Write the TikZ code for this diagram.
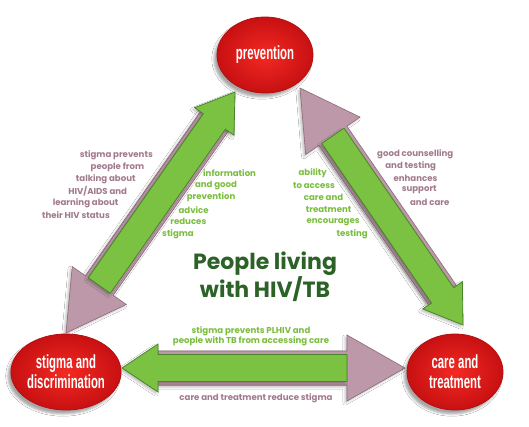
\documentclass[tikz,border=0pt]{standalone}
\usepackage{fontspec}
\setmainfont{Poppins}
\newfontfamily\ovalfont{Liberation Sans}[FakeStretch=0.6]
\usetikzlibrary{shapes.geometric, calc, shadows.blur}
\definecolor{ovalred}{RGB}{242,42,34}
\definecolor{ovaldark}{RGB}{200,16,18}
\definecolor{arrgreen}{RGB}{124,194,66}
\definecolor{arrgreendark}{RGB}{72,132,42}
\definecolor{arrmauve}{RGB}{188,152,168}
\definecolor{arrmauvedark}{RGB}{140,105,122}
\definecolor{txtmauve}{RGB}{162,122,142}
\definecolor{txtgreen}{RGB}{122,190,62}
\definecolor{txtdark}{RGB}{44,98,40}
\tikzstyle{oval} = [ellipse, minimum width=96pt, minimum height=76pt, inner sep=0, draw=ovaldark!90!black, thick, inner color=ovalred, outer color=ovaldark, text=white, align=center, font=\ovalfont\bfseries\fontsize{19}{20}\selectfont, blur shadow={shadow xshift=-3pt, shadow yshift=-4pt, shadow opacity=35}]
\tikzstyle{mauvearrow} = [fill=arrmauve, draw=arrmauvedark, line width=.6pt, blur shadow={shadow xshift=-2pt, shadow yshift=-2pt, shadow opacity=25}]
\tikzstyle{greenarrow} = [fill=arrgreen, draw=arrgreendark, line width=.8pt, blur shadow={shadow xshift=-2pt, shadow yshift=-2pt, shadow opacity=25}]
\tikzstyle{smalltext} = [inner sep=0, font=\bfseries\fontsize{8.6}{10}\selectfont]
% mauve head at #1, green head at #2
\newcommand{\duoarrow}[2]{%
\draw[mauvearrow] (#1) -- ($(#1)!58pt!(#2)!33pt!90:(#2)$) -- ($(#1)!58pt!(#2)!17pt!90:(#2)$) -- ($(#2)!36pt!(#1)!17pt!-90:(#1)$) -- ($(#2)!36pt!(#1)!17pt!90:(#1)$) -- ($(#1)!58pt!(#2)!17pt!-90:(#2)$) -- ($(#1)!58pt!(#2)!33pt!-90:(#2)$) -- cycle;
\draw[greenarrow] (#2) -- ($(#2)!36pt!(#1)!24pt!90:(#1)$) -- ($(#2)!36pt!(#1)!13.5pt!90:(#1)$) -- ($(#1)!58pt!(#2)!13.5pt!-90:(#2)$) -- ($(#1)!58pt!(#2)!13.5pt!90:(#2)$) -- ($(#2)!36pt!(#1)!13.5pt!-90:(#1)$) -- ($(#2)!36pt!(#1)!24pt!-90:(#1)$) -- cycle;}
\begin{document}
\begin{tikzpicture}[x=1pt,y=-1pt]
\useasboundingbox[fill=white] (0,0) rectangle (529,426);
% arrow tips
\coordinate (lm) at (66,333);
\coordinate (lg) at (235,92);
\coordinate (rm) at (300,88);
\coordinate (rg) at (463,325);
\coordinate (bm) at (405,368);
\coordinate (bg) at (122,368);
\duoarrow{lm}{lg}
\duoarrow{rm}{rg}
\duoarrow{bm}{bg}
% ovals
\node[oval] (prev) at (265,55) {prevention};
\node[oval] (stig) at (66,372) {stigma and\\discrimination};
\node[oval] (care) at (455,372) {care and\\treatment};
% centre
\node[font=\bfseries\fontsize{22}{25}\selectfont, text=txtdark, align=center] (plhiv) at (265,277) {People living\\with HIV/TB};
% left side
\foreach \txt [count=\i] in {stigma prevents, people from, talking about, HIV/AIDS and, learning about, their HIV status}
  \node[smalltext, text=txtmauve, anchor=east] (lmt\i) at ({153-8.6*(\i-1)},{155+12*(\i-1)}) {\txt};
\foreach \txt [count=\i] in {information, and good, prevention, advice, reduces, stigma}
  \node[smalltext, text=txtgreen, anchor=west] (lgt\i) at ({203-8.2*(\i-1)},{173+12.2*(\i-1)}) {\txt};
% right side
\foreach \txt [count=\i] in {ability, to access, care and, treatment, encourages, testing}
  \node[smalltext, text=txtgreen, anchor=east] (rgt\i) at ({327+8.2*(\i-1)},{173+12.2*(\i-1)}) {\txt};
\foreach \txt [count=\i] in {good counselling, and testing, enhances, support, and care}
  \node[smalltext, text=txtmauve, anchor=west] (rmt\i) at ({377+8.2*(\i-1)},{154+12*(\i-1)}) {\txt};
% bottom
\node[smalltext, text=txtgreen, align=center] (bgt) at (251,336) {stigma prevents PLHIV and\\people with TB from accessing care};
\node[smalltext, text=txtmauve] (bmt) at (256,398) {care and treatment reduce stigma};
\end{tikzpicture}
\end{document}
